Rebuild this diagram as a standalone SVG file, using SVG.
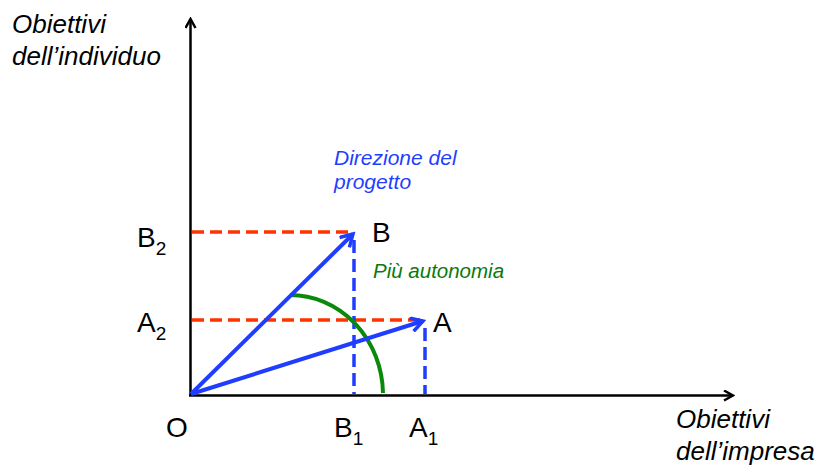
<svg xmlns="http://www.w3.org/2000/svg" width="819" height="466" viewBox="0 0 819 466">
<defs>
<style>
.t{font-family:"Liberation Sans",Arial,sans-serif;fill:#000}
.it{font-style:italic}
.ax{stroke:#000;stroke-width:2.5;fill:none}
.vec{stroke:#1f3dff;stroke-width:4;fill:none}
.red{stroke:#ff3300;stroke-width:3.5;stroke-dasharray:12 6;fill:none}
.bd{stroke:#1f3dff;stroke-width:3.5;stroke-dasharray:13 6;fill:none}
</style>
<marker id="ah" markerWidth="12" markerHeight="12" refX="10" refY="6" orient="auto" markerUnits="userSpaceOnUse"><path d="M1,1 L10,6 L1,11" fill="none" stroke="#000" stroke-width="2.5"/></marker>
<marker id="bh" markerWidth="16" markerHeight="16" refX="13" refY="8" orient="auto" markerUnits="userSpaceOnUse"><path d="M1,1 L13,8 L1,15" fill="none" stroke="#1f3dff" stroke-width="3.5"/></marker>
</defs>
<g id="connectors">
<line class="ax" x1="190.5" y1="396" x2="190.5" y2="19" marker-end="url(#ah)"/>
<line class="ax" x1="189" y1="395.5" x2="733" y2="395.5" marker-end="url(#ah)"/>
<line class="red" x1="192" y1="232" x2="354" y2="232"/>
<line class="red" x1="192" y1="320" x2="425" y2="320"/>
<line class="bd" x1="354" y1="240" x2="354" y2="394"/>
<line class="bd" x1="425" y1="328" x2="425" y2="394"/>
<path d="M290,295 A93,100 0 0 1 383,393" fill="none" stroke="#0a8a0a" stroke-width="4"/>
<line class="vec" x1="191" y1="394" x2="353" y2="234" marker-end="url(#bh)"/>
<line class="vec" x1="191" y1="394" x2="423" y2="321" marker-end="url(#bh)"/>
</g>
<g id="yaxis-label"><text class="t it" font-size="26"><tspan x="12" y="33">Obiettivi</tspan><tspan x="12" y="65">dell’individuo</tspan></text></g>
<g id="xaxis-label"><text class="t it" font-size="26"><tspan x="676" y="428">Obiettivi</tspan><tspan x="676" y="460">dell’impresa</tspan></text></g>
<g id="direzione"><text class="t it" font-size="21" style="fill:#1f3dff"><tspan x="334" y="165">Direzione del</tspan><tspan x="334" y="189">progetto</tspan></text></g>
<g id="autonomia"><text class="t it" x="373" y="278" font-size="20.5" style="fill:#0a7a0a">Più autonomia</text></g>
<g id="B"><text class="t" x="372" y="242" font-size="28">B</text></g>
<g id="A"><text class="t" x="433" y="332" font-size="28">A</text></g>
<g id="B2"><text class="t" x="137" y="247" font-size="28">B<tspan font-size="19" dy="8">2</tspan></text></g>
<g id="A2"><text class="t" x="137" y="332" font-size="28">A<tspan font-size="19" dy="8">2</tspan></text></g>
<g id="O"><text class="t" x="166" y="437" font-size="28">O</text></g>
<g id="B1"><text class="t" x="334" y="437" font-size="28">B<tspan font-size="19" dy="8">1</tspan></text></g>
<g id="A1"><text class="t" x="409" y="437" font-size="28">A<tspan font-size="19" dy="8">1</tspan></text></g>
</svg>
